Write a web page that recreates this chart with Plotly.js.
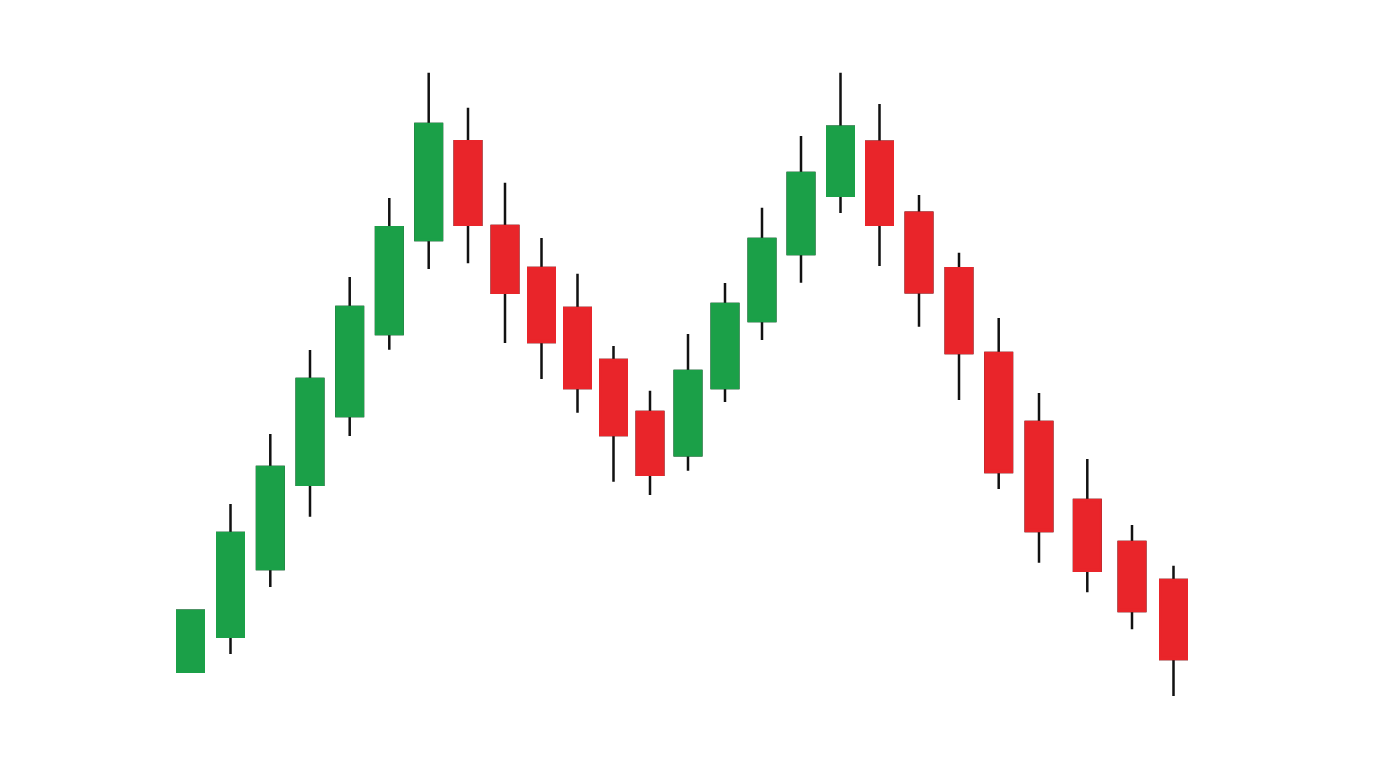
<!DOCTYPE html>
<html>
<head>
<meta charset="utf-8">
<script src="https://cdn.plot.ly/plotly-3.0.1.min.js"></script>
<style>
  html, body { margin: 0; padding: 0; background: #ffffff; }
  #chart { width: 1376px; height: 768px; }
</style>
</head>
<body>
<div id="chart"></div>
<script>
// Time positions (sessions) and OHLC values
const sessions = [190.5, 230.5, 270.3, 310, 349.7, 389.3, 428.7, 468, 505, 541.5, 577.5, 613.5, 650,
                  688, 725, 762, 801, 840.5, 879.5, 919, 959, 998.7, 1039, 1087.3, 1132, 1173.5];
const openVals  = [9.63, 13.13, 19.9, 28.33, 35.2, 43.4, 52.8, 62.67, 54.2, 50.0, 46.0, 40.8, 35.6,
                   31.27, 38.0, 44.7, 51.4, 57.23, 62.63, 55.53, 49.97, 41.5, 34.6, 26.8, 22.6, 18.8];
const highVals  = [15.73, 26.4, 33.4, 41.8, 49.1, 57.0, 69.53, 66.03, 58.53, 53.0, 49.43, 42.2, 37.73,
                   43.4, 48.5, 56.03, 63.2, 69.53, 66.4, 57.3, 51.53, 45.0, 37.5, 30.9, 24.3, 20.23];
const lowVals   = [9.63, 11.4, 18.1, 25.13, 33.2, 41.83, 49.9, 50.47, 42.5, 38.9, 35.53, 28.63, 27.3,
                   29.73, 36.6, 42.8, 48.53, 55.5, 50.2, 44.13, 36.8, 27.9, 20.53, 17.57, 13.87, 7.2];
const closeVals = [15.73, 23.5, 30.1, 38.9, 46.1, 54.07, 64.4, 54.33, 47.53, 42.6, 38.0, 33.3, 29.33,
                   39.7, 46.4, 52.9, 59.5, 64.13, 54.33, 47.57, 41.5, 29.6, 23.7, 19.73, 15.7, 10.9];

const GREEN = '#1ba048';
const RED = '#e9252a';
const LW = 2.5;

// Body-only extents derived from open/close
const bodyHigh = openVals.map((o, i) => Math.max(o, closeVals[i]));
const bodyLow  = openVals.map((o, i) => Math.min(o, closeVals[i]));

const wicks = {
  type: 'candlestick',
  x: sessions, open: openVals, high: highVals, low: lowVals, close: closeVals,
  increasing: { line: { color: '#111111', width: LW }, fillcolor: 'rgba(0,0,0,0)' },
  decreasing: { line: { color: '#111111', width: LW }, fillcolor: 'rgba(0,0,0,0)' },
  whiskerwidth: 0,
  hoverinfo: 'skip',
  showlegend: false
};

const bodies = {
  type: 'candlestick',
  x: sessions, open: openVals, high: bodyHigh, low: bodyLow, close: closeVals,
  increasing: { line: { color: GREEN, width: LW }, fillcolor: GREEN },
  decreasing: { line: { color: RED, width: LW }, fillcolor: RED },
  whiskerwidth: 0,
  showlegend: false
};

const layout = {
  width: 1376, height: 768,
  margin: { l: 0, r: 0, t: 0, b: 0 },
  paper_bgcolor: '#ffffff', plot_bgcolor: '#ffffff',
  showlegend: false,
  boxgap: 0.264, boxgroupgap: 0,
  xaxis: { range: [0, 1376], visible: false, rangeslider: { visible: false }, fixedrange: true },
  yaxis: { range: [0, 76.8], visible: false, fixedrange: true }
};

Plotly.newPlot('chart', [wicks, bodies], layout, { displayModeBar: false, staticPlot: true });
</script>
</body>
</html>
